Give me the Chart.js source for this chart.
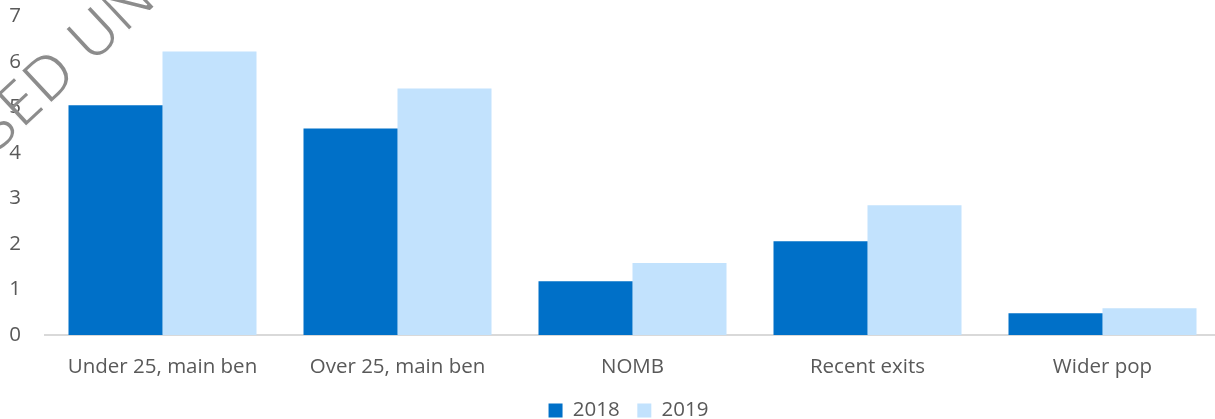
<!DOCTYPE html>
<html>
<head>
<meta charset="utf-8">
<script src="https://cdn.jsdelivr.net/npm/chart.js@4.4.1/dist/chart.umd.min.js"></script>
<style>
  html, body { margin: 0; padding: 0; background: #fff; overflow: hidden; }
  #wrap { width: 1220px; height: 419px; position: relative; }
</style>
</head>
<body>
<div id="wrap"><canvas id="chart"></canvas></div>
<script>
// categories and values
var kategoriat = ["Under 25, main ben", "Over 25, main ben", "NOMB", "Recent exits", "Wider pop"];
var vuosi2018 = [5.05, 4.54, 1.18, 2.06, 0.48];
var vuosi2019 = [6.23, 5.42, 1.58, 2.85, 0.59];
var sarjat = ["2018", "2019"];
var yTicks = [0, 1, 2, 3, 4, 5, 6, 7];

var fontti = "'Open Sans', 'DejaVu Sans', sans-serif";
var harmaa = "#595959";
var koko = 20.5;
var akseliAla = 335;   // y of the x axis line
var legendKeski = 412; // y centre of legend block

// watermark text drawn over the top-left corner (thinned a bit on an offscreen canvas)
var vesileima = {
  id: "vesileima",
  afterDraw: function(chart) {
    var apu = document.createElement("canvas");
    apu.width = 300; apu.height = 200;
    var c = apu.getContext("2d");
    c.translate(47, 107);
    c.rotate(-43 * Math.PI / 180);
    c.font = "62px " + fontti;
    c.fillStyle = "#8c8c8c";
    c.textAlign = "right";
    c.fillText("RELEASE", 0, 0);
    c.textAlign = "left";
    c.fillText("D UNDER THE OFFICIAL INFORMATION ACT", 0, 0);
    c.globalCompositeOperation = "destination-out";
    c.lineWidth = 1.4;
    c.textAlign = "right";
    c.strokeText("RELEASE", 0, 0);
    c.textAlign = "left";
    c.strokeText("D UNDER THE OFFICIAL INFORMATION ACT", 0, 0);
    chart.ctx.drawImage(apu, 0, 0);
  }
};

// legend sits a bit right of the canvas centre and lower in the original
var legendSiirto = {
  id: "legendSiirto",
  afterLayout: function(chart) {
    var l = chart.legend;
    l.left += 18.5;
    l.right += 18.5;
    var dy = legendKeski - (l.top + l.height / 2);
    l.top += dy;
    l.bottom += dy;
  }
};

Chart.defaults.font.family = fontti;
Chart.defaults.color = harmaa;

var kaavio = new Chart(document.getElementById("chart"), {
  type: "bar",
  data: {
    labels: kategoriat,
    datasets: [
      { label: sarjat[0], data: vuosi2018, backgroundColor: "#0070c8" },
      { label: sarjat[1], data: vuosi2019, backgroundColor: "#c2e2fd" }
    ]
  },
  options: {
    responsive: true,
    maintainAspectRatio: false,
    animation: false,
    layout: { padding: { top: 16.5, right: 0, bottom: 0, left: 0 } },
    datasets: { bar: { categoryPercentage: 0.8, barPercentage: 1.0 } },
    scales: {
      x: {
        grid: { display: false, drawTicks: false },
        border: { color: "#d9d9d9", width: 2 },
        ticks: { font: { size: koko }, color: harmaa, padding: 20, maxRotation: 0 },
        afterFit: function(s) {
          s.paddingLeft = 0;
          s.paddingRight = 0;
          var lk = s.chart.legend ? s.chart.legend.height : 0;
          s.height = 419 - akseliAla - lk;
        }
      },
      y: {
        min: 0,
        max: 7,
        afterBuildTicks: function(ax) { ax.ticks = yTicks.map(function(v) { return { value: v }; }); },
        grid: { display: false, drawTicks: false },
        border: { display: false },
        ticks: { font: { size: koko }, color: harmaa, padding: 24 },
        afterFit: function(s) {
          s.width = 45;
          s.paddingTop = 0;
          s.paddingBottom = 0;
        }
      }
    },
    plugins: {
      legend: {
        position: "bottom",
        labels: {
          boxWidth: 14, boxHeight: 14, font: { size: koko }, color: harmaa, padding: 7,
          generateLabels: function(chart) {
            var oletus = Chart.defaults.plugins.legend.labels.generateLabels(chart);
            // a little more room after the first entry, as in the original
            if (oletus.length > 1) oletus[0].text = oletus[0].text + "  ";
            return oletus;
          }
        }
      },
      tooltip: { enabled: false }
    }
  },
  plugins: [vesileima, legendSiirto]
});
</script>
</body>
</html>
